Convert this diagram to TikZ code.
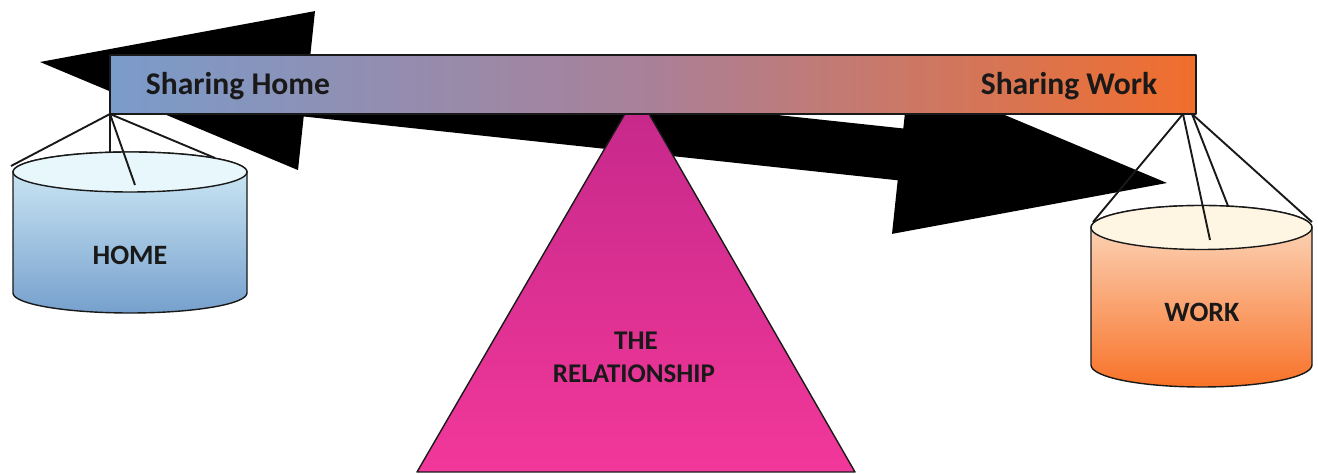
\documentclass[tikz,border=0pt]{standalone}
\usepackage{fontspec}
\setmainfont{Carlito}
\definecolor{barL}{RGB}{122,156,202}
\definecolor{barM}{RGB}{170,128,152}
\definecolor{barR}{RGB}{241,110,44}
\definecolor{homeTop}{RGB}{232,247,251}
\definecolor{homeA}{RGB}{212,238,248}
\definecolor{homeB}{RGB}{118,160,205}
\definecolor{workTop}{RGB}{254,245,226}
\definecolor{workA}{RGB}{252,222,198}
\definecolor{workB}{RGB}{248,114,40}
\definecolor{triA}{RGB}{196,40,138}
\definecolor{triB}{RGB}{242,56,154}
\begin{document}
\begin{tikzpicture}[x=0.5pt,y=-0.5pt, line join=round,
  outl/.style={draw=black!90, line width=0.7pt},
  hang/.style={draw=black!90, line width=0.95pt},
  lbl/.style={font=\bfseries\fontsize{14}{16}\selectfont, text=black!90, inner sep=0pt, anchor=base},
  barlbl/.style={lbl, font=\bfseries\fontsize{15.8}{18}\selectfont}]
\useasboundingbox (0,0) rectangle (1318,474);

% double-headed black arrow (tilted)
\fill[black] (40,62) -- (315,11.1) -- (309.3,64.8) -- (903.3,128.5) -- (909,74.9)
  -- (1167,183) -- (892,233.9) -- (897.7,180.3) -- (303.7,116.5) -- (298,170.1) -- cycle;

% fulcrum triangle
\draw[outl, top color=triA, bottom color=triB] (637,93) -- (855,472) -- (417,472) -- cycle;
\node[lbl, font=\bfseries\fontsize{13.5}{16}\selectfont] (the) at (636,350) {THE};
\node[lbl, font=\bfseries\fontsize{13.5}{16}\selectfont] (rel) at (634,383) {RELATIONSHIP};

% beam
\draw[outl, left color=barL, right color=barR, middle color=barM] (110,55) rectangle (1196,114);
\node[barlbl] (sh) at (238,95) {Sharing Home};
\node[barlbl] (sw) at (1069,95) {Sharing Work};

% HOME cylinder
\draw[outl, top color=homeA, bottom color=homeB]
  (13,172) -- (13,293) arc[start angle=180, end angle=0, x radius=117, y radius=20]
  -- (247,172) arc[start angle=0, end angle=-180, x radius=117, y radius=20] -- cycle;
\draw[outl, fill=homeTop] (130,172) ellipse[x radius=117, y radius=20];
\node[lbl] (home) at (130,265) {HOME};

% WORK cylinder
\draw[outl, top color=workA, bottom color=workB]
  (1091,227.5) -- (1091,365) arc[start angle=180, end angle=0, x radius=110.5, y radius=22]
  -- (1312,227.5) arc[start angle=0, end angle=-180, x radius=110.5, y radius=22] -- cycle;
\draw[outl, fill=workTop] (1201.5,227.5) ellipse[x radius=110.5, y radius=22];
\node[lbl] (work) at (1202,322) {WORK};

% hanging strings
\coordinate (hl) at (110,114);
\coordinate (l1) at (11,166);
\coordinate (l2) at (110,152.5);
\coordinate (l3) at (135,185);
\coordinate (l4) at (215,158);
\foreach \p in {l1,l2,l3,l4} \draw[hang] (hl) -- (\p);

\coordinate (hr1) at (1183,114);
\coordinate (hr2) at (1192,114);
\coordinate (r1) at (1093,222);
\coordinate (r2) at (1210,240);
\coordinate (r3) at (1228,206);
\coordinate (r4) at (1312,222);
\draw[hang] (hr1) -- (r1);
\draw[hang] (hr1) -- (r2);
\draw[hang] (hr2) -- (r3);
\draw[hang] (hr2) -- (r4);
\end{tikzpicture}
\end{document}
